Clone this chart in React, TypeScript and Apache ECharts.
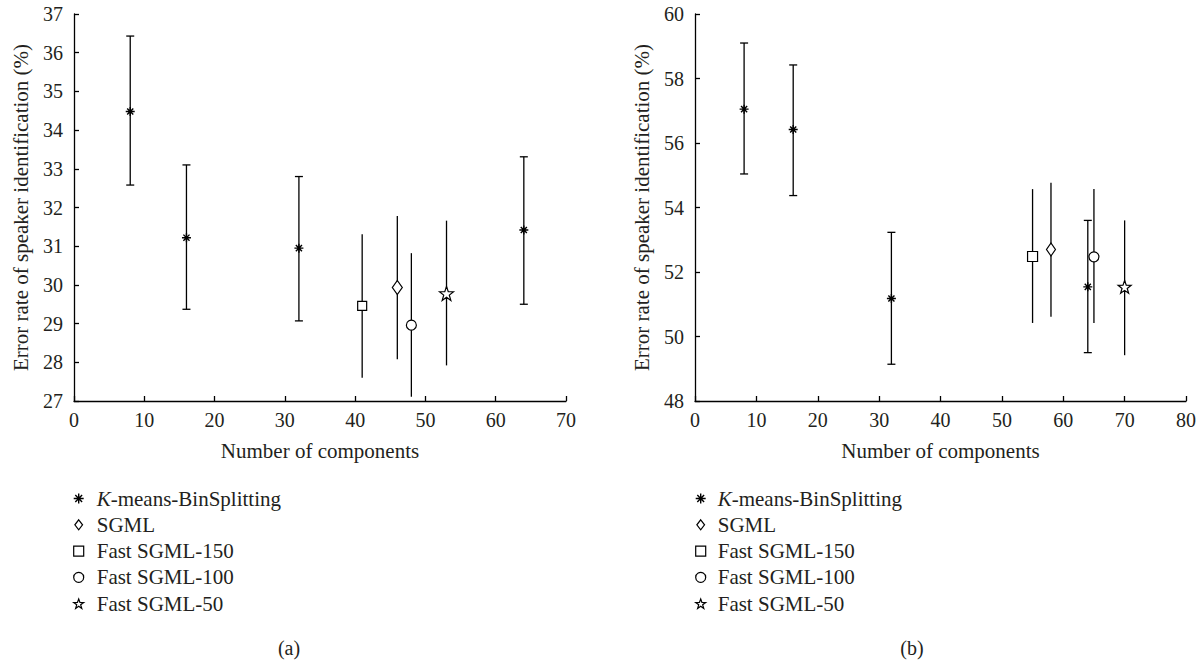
import React, { useEffect, useRef } from "react";
import * as echarts from "echarts";

const FONT = "'Liberation Serif', 'Times New Roman', serif";
const TEXT = "#231f20";

const methods = ["K-means-BinSplitting", "SGML", "Fast SGML-150", "Fast SGML-100", "Fast SGML-50"];

// Panel (a)
const aKmX = [8, 16, 32, 64];
const aKmMean = [34.48, 31.22, 30.95, 31.42];
const aKmLow = [32.58, 29.37, 29.07, 29.5];
const aKmHigh = [36.43, 33.1, 32.8, 33.31];
// SGML, Fast SGML-150, Fast SGML-100, Fast SGML-50
const aOtherX = [46, 41, 48, 53];
const aOtherMean = [29.93, 29.46, 28.96, 29.78];
const aOtherLow = [28.08, 27.6, 27.11, 27.92];
const aOtherHigh = [31.78, 31.31, 30.82, 31.66];

// Panel (b)
const bKmX = [8, 16, 32, 64];
const bKmMean = [57.05, 56.42, 51.18, 51.54];
const bKmLow = [55.04, 54.37, 49.14, 49.5];
const bKmHigh = [59.1, 58.42, 53.23, 53.6];
const bOtherX = [58, 55, 65, 70];
const bOtherMean = [52.7, 52.48, 52.47, 51.54];
const bOtherLow = [50.61, 50.42, 50.42, 49.42];
const bOtherHigh = [54.77, 54.57, 54.57, 53.6];

const ASTERISK = "path://M5 0L5 10M0 5L10 5M1.6 1.6L8.4 8.4M8.4 1.6L1.6 8.4";
const STAR =
  "path://M5 0L6.18 3.38L9.76 3.45L6.9 5.62L7.94 9.05L5 7L2.06 9.05L3.1 5.62L0.24 3.45L3.82 3.38Z";

const symbols = [ASTERISK, "diamond", "rect", "circle", STAR];
const sizesA: any[] = [9, [10, 14], 9, 10, 14];
const sizesB: any[] = [9, [9, 13], 10, 10, 13];

const hollow = { color: "#fff", borderColor: "#000", borderWidth: 1.2, opacity: 1 };
const solid = { color: "#000", borderColor: "#000", borderWidth: 1.4, opacity: 1 };

function errorSeries(xs: number[], lo: number[], hi: number[], cap: number, axis: number) {
  return {
    type: "custom",
    xAxisIndex: axis,
    yAxisIndex: axis,
    z: 1,
    silent: true,
    data: xs.map((x, i) => [x, lo[i], hi[i], cap]),
    encode: { x: 0, y: [1, 2] },
    renderItem: (_p: any, api: any) => {
      const x = api.value(0);
      const p1 = api.coord([x, api.value(1)]);
      const p2 = api.coord([x, api.value(2)]);
      const st = { stroke: "#000", lineWidth: 1.3 };
      const children: any[] = [
        { type: "line", shape: { x1: p1[0], y1: p1[1], x2: p2[0], y2: p2[1] }, style: st },
      ];
      if (api.value(3)) {
        const w = 4;
        children.push({ type: "line", shape: { x1: p1[0] - w, y1: p1[1], x2: p1[0] + w, y2: p1[1] }, style: st });
        children.push({ type: "line", shape: { x1: p2[0] - w, y1: p2[1], x2: p2[0] + w, y2: p2[1] }, style: st });
      }
      return { type: "group", children };
    },
  };
}

function scatterSeries(idx: number, data: number[][], axis: number, size: any) {
  return {
    type: "scatter",
    name: methods[idx],
    xAxisIndex: axis,
    yAxisIndex: axis,
    z: 3,
    symbol: symbols[idx],
    symbolSize: size,
    data,
    itemStyle: idx === 0 ? solid : hollow,
  };
}

function xAxis(idx: number, max: number) {
  return {
    type: "value",
    gridIndex: idx,
    min: 0,
    max,
    interval: 10,
    name: "Number of components",
    nameLocation: "middle",
    nameGap: 39,
    nameTextStyle: { fontFamily: FONT, fontSize: 21, color: TEXT },
    axisLine: { show: true, onZero: false, lineStyle: { color: "#000", width: 1.3 } },
    axisTick: { show: true, inside: true, length: 5, lineStyle: { color: "#000", width: 1.3 } },
    axisLabel: { fontFamily: FONT, fontSize: 20, color: TEXT, margin: 9 },
    splitLine: { show: false },
  };
}

function yAxis(idx: number, min: number, max: number, interval: number) {
  return {
    type: "value",
    gridIndex: idx,
    min,
    max,
    interval,
    name: "Error rate of speaker identification (%)",
    nameLocation: "middle",
    nameRotate: 90,
    nameGap: 43,
    nameTextStyle: { fontFamily: FONT, fontSize: 21, color: TEXT },
    axisLine: { show: true, onZero: false, lineStyle: { color: "#000", width: 1.3 } },
    axisTick: { show: true, inside: true, length: 5, lineStyle: { color: "#000", width: 1.3 } },
    axisLabel: { fontFamily: FONT, fontSize: 20, color: TEXT, margin: 11 },
    splitLine: { show: false },
  };
}

const legendIcons = [ASTERISK, "path://M5 0L10 6.5L5 13L0 6.5Z", "rect", "circle", STAR];

function legend(left: number, pad: number) {
  const ts = { fontFamily: FONT, fontSize: 21, lineHeight: 20, color: TEXT };
  return {
    orient: "vertical",
    left,
    top: 488,
    padding: 0,
    itemWidth: 10,
    itemHeight: 10,
    itemGap: 5.3,
    selectedMode: false,
    data: methods.map((m, i) => ({
      name: m,
      icon: legendIcons[i],
      itemStyle: i === 0 ? solid : { color: "#fff", borderColor: "#000", borderWidth: 1.2 },
      textStyle: { ...ts },
    })),
    formatter: (n: string) => (n === methods[0] ? "{i|K}{n|-means-BinSplitting}" : "{n|" + n + "}"),
    textStyle: {
      ...ts,
      padding: [0, 0, 0, pad],
      rich: {
        i: { ...ts, fontStyle: "italic" },
        n: { ...ts },
      },
    },
  };
}

export default function App() {
  const ref = useRef<HTMLDivElement>(null);
  useEffect(() => {
    if (!ref.current) return;
    const chart = echarts.init(ref.current, null, { renderer: "svg" });
    const series: any[] = [
      errorSeries(aKmX, aKmLow, aKmHigh, 1, 0),
      errorSeries(aOtherX, aOtherLow, aOtherHigh, 0, 0),
      errorSeries(bKmX, bKmLow, bKmHigh, 1, 1),
      errorSeries(bOtherX, bOtherLow, bOtherHigh, 0, 1),
      scatterSeries(0, aKmX.map((x, i) => [x, aKmMean[i]]), 0, sizesA[0]),
      scatterSeries(0, bKmX.map((x, i) => [x, bKmMean[i]]), 1, sizesB[0]),
    ];
    for (let k = 0; k < 4; k++) {
      series.push(scatterSeries(k + 1, [[aOtherX[k], aOtherMean[k]]], 0, sizesA[k + 1]));
      series.push(scatterSeries(k + 1, [[bOtherX[k], bOtherMean[k]]], 1, sizesB[k + 1]));
    }
    chart.setOption({
      animation: false,
      backgroundColor: "#fff",
      textStyle: { fontFamily: FONT, color: TEXT },
      grid: [
        { left: 74, top: 14, width: 492, height: 387 },
        { left: 695, top: 14, width: 491, height: 387 },
      ],
      xAxis: [xAxis(0, 70), xAxis(1, 80)],
      yAxis: [yAxis(0, 27, 37, 1), yAxis(1, 48, 60, 2)],
      legend: [legend(73, 8), legend(695, 7)],
      graphic: [
        { type: "text", x: 289, y: 648, style: { text: "(a)", fontFamily: FONT, fontSize: 20, fill: TEXT, textAlign: "center", textVerticalAlign: "middle" } },
        { type: "text", x: 912, y: 648, style: { text: "(b)", fontFamily: FONT, fontSize: 20, fill: TEXT, textAlign: "center", textVerticalAlign: "middle" } },
      ],
      series,
    });
    return () => chart.dispose();
  }, []);
  return <div ref={ref} style={{ position: "absolute", left: 0, top: 0, width: 1203, height: 661 }} />;
}
